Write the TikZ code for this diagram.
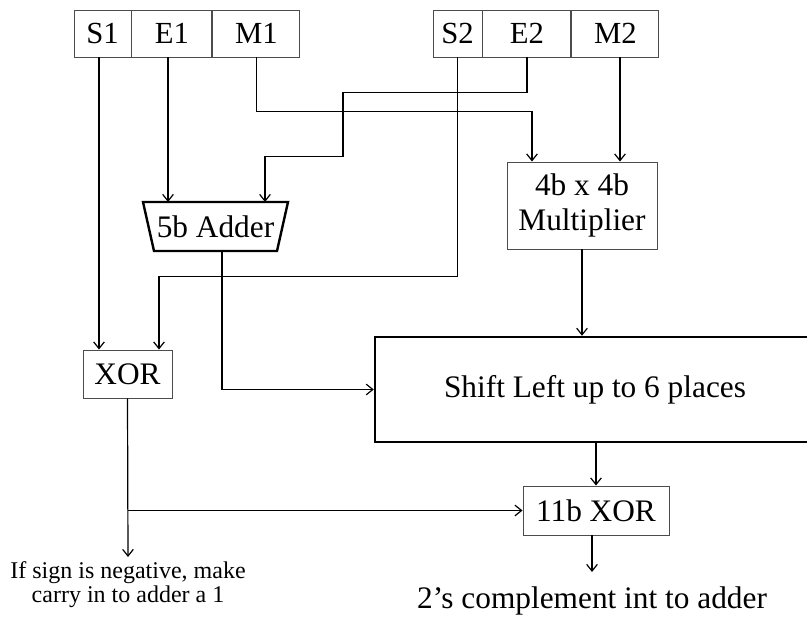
\documentclass[tikz,border=0pt]{standalone}
\usepackage{fontspec}
\setmainfont{Liberation Serif}
\usetikzlibrary{arrows.meta,calc,positioning}

\begin{document}
\begin{tikzpicture}[x=0.75pt,y=-0.75pt,
    every node/.style={font=\fontsize{23.5}{26}\selectfont},
    field/.style={draw=black!70, line width=0.7pt, minimum height=35.25pt, inner sep=0pt, font=\fontsize{23}{26}\selectfont},
    unit/.style={draw=black!70, line width=0.7pt, inner sep=0pt, align=center},
    bigunit/.style={draw=black, line width=1.8pt, inner sep=0pt},
    wire/.style={line width=0.9pt},
    arr/.style={wire, -{Straight Barb[length=5pt,width=8pt]}}]
  \useasboundingbox (0,0) rectangle (807,617);

  \node[field, minimum width=42.75pt] (S1) at (102.5,33.5) {S1};
  \node[field, minimum width=60pt, right=0pt of S1] (E1) {E1};
  \node[field, minimum width=65.25pt, right=0pt of E1] (M1) {M1};
  \node[field, minimum width=36.75pt] (S2) at (457.5,33.5) {S2};
  \node[field, minimum width=66pt, right=0pt of S2] (E2) {E2};
  \node[field, minimum width=65.25pt, right=0pt of E2] (M2) {M2};

  \node[inner sep=0pt, outer sep=0pt, minimum width=92.25pt, minimum height=36.75pt] (adder) at (215.5,226.5) {5b Adder};
  \draw[line width=1.8pt] ($(adder.north west)+(-11,0)$) -- ($(adder.north east)+(11,0)$)
    -- (adder.south east) -- (adder.south west) -- cycle;
  \node[unit, minimum width=112.5pt, minimum height=65.25pt] (mult) at (582,205.5) {4b x 4b\\Multiplier};
  \node[unit, minimum width=66.75pt, minimum height=36pt] (xor) at (127.5,374) {XOR};
  \node[bigunit, minimum width=330pt, minimum height=78.75pt] (shift) at (595,389.5) {Shift Left up to 6 places};
  \node[unit, minimum width=109.5pt, minimum height=36.75pt] (x11) at (596,510.5) {11b XOR};
  \node[inner sep=0pt, outer sep=3.5pt, anchor=north, align=center, font=\fontsize{18}{18}\selectfont] (note) at (128,557)
    {If sign is negative, make\\carry in to adder a 1};
  \node[inner sep=0pt, outer sep=11pt, anchor=north] (out) at (592,572) {2’s complement int to adder};

  \coordinate (xorA) at ($(xor.north)+(-28.5,0)$);
  \coordinate (xorB) at ($(xor.north)+(31.5,0)$);
  \coordinate (adderA) at ($(adder.north)+(-47.5,0)$);
  \coordinate (adderB) at ($(adder.north)+(49.5,0)$);
  \coordinate (mulA) at ($(mult.north)+(-50,0)$);
  \coordinate (mulB) at ($(mult.north)+(38,0)$);

  \draw[arr] (S1.south -| xorA) -- (xorA);
  \draw[arr] (E1.south -| adderA) -- (adderA);
  \draw[arr] (M1.south) -- ++(0,54) -| (mulA);
  \draw[arr] (S2.south) -- ++(0,219) -| (xorB);
  \draw[arr] (E2.south) -- ++(0,35) -- ++(-184,0) -- ++(0,64) -| (adderB);
  \draw[arr] (M2.south -| mulB) -- (mulB);
  \draw[arr] (mult.south) -- (mult.south |- shift.north);
  \draw[arr] ($(adder.south)+(6.5,0)$) |- (shift.west);
  \draw[arr] (shift.south -| x11.north) -- (x11.north);
  \draw[arr] (xor.south) -- (note.north);
  \draw[arr] (xor.south |- x11.west) -- (x11.west);
  \draw[arr] (x11.south -| out.north) -- (out.north);
\end{tikzpicture}
\end{document}
